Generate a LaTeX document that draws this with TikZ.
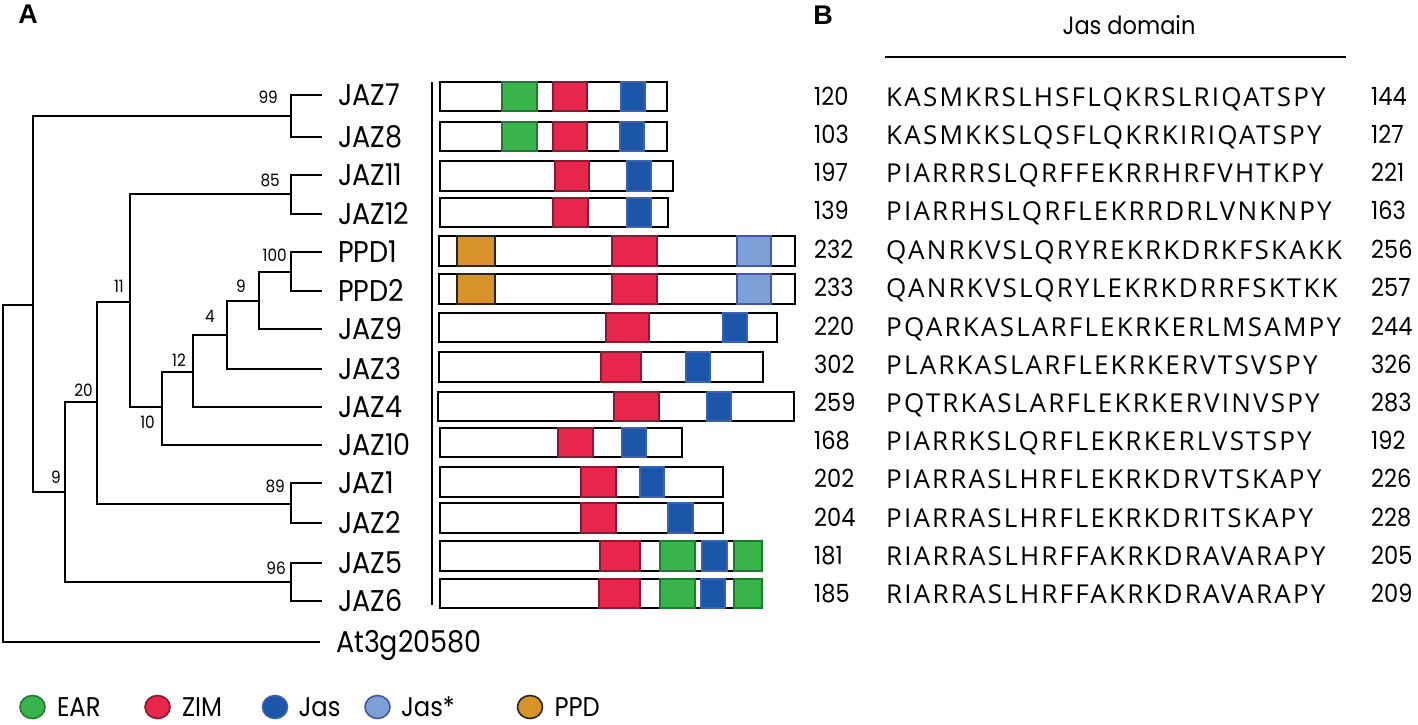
\documentclass[tikz,border=0pt]{standalone}
\usepackage{fontspec}
\usepackage{xcolor}
\usepackage{tikz}
\usetikzlibrary{positioning, shapes.geometric}
\newfontfamily\gothic[FakeStretch=0.9]{Poppins}
\newfontfamily\seqfont[LetterSpace=8.5]{Open Sans}
\newfontfamily\panelfont{Liberation Sans}
\definecolor{earfill}{HTML}{38B44A}
\definecolor{earline}{HTML}{1F7A32}
\definecolor{zimfill}{HTML}{E8254B}
\definecolor{zimline}{HTML}{8C1A30}
\definecolor{jasfill}{HTML}{1C56A8}
\definecolor{jasline}{HTML}{3A62B0}
\definecolor{jsfill}{HTML}{7C9FD4}
\definecolor{jsline}{HTML}{4556B0}
\definecolor{ppdfill}{HTML}{D8922A}
\definecolor{ppdline}{HTML}{2B2515}
\tikzset{
    branch/.style = {line width=2.5pt},
    leaf/.style = {anchor=west, inner xsep=8pt, outer xsep=8pt, inner ysep=0pt,
        outer ysep=0pt, text height=21pt, text depth=0pt,
        font=\gothic\fontsize{30}{36}\selectfont},
    boot/.style = {inner sep=0pt, text height=12pt, text depth=0pt,
        font=\gothic\fontsize{17}{20}\selectfont},
    protbar/.style = {draw=black, line width=2.6pt, fill=white},
    dom/.style = {line width=1.4pt},
    ear/.style = {dom, fill=earfill, draw=earline},
    zim/.style = {dom, fill=zimfill, draw=zimline},
    jas/.style = {dom, fill=jasfill, draw=jasline},
    jasstar/.style = {dom, fill=jsfill, draw=jsline},
    ppd/.style = {dom, fill=ppdfill, draw=ppdline},
    resnum/.style = {anchor=west, inner sep=0pt, text height=17pt, text depth=0pt,
        font=\gothic\fontsize{25}{30}\selectfont},
    seqtxt/.style = {anchor=west, inner sep=0pt, text height=18pt, text depth=0pt,
        font=\seqfont\fontsize{26}{31}\selectfont},
    legdot/.style = {ellipse, minimum width=25pt, minimum height=23pt, inner sep=0pt,
        line width=1.6pt},
    legtxt/.style = {inner sep=0pt, text height=19pt, text depth=0pt,
        font=\gothic\fontsize{27}{32}\selectfont},
    panel/.style = {inner sep=0pt, font=\panelfont\bfseries\fontsize{27}{32}\selectfont},
}

\begin{document}
\begin{tikzpicture}[x=1pt,y=-1pt]
        \useasboundingbox (0,0) rectangle (1418,724);
        \node [panel] (pa) at (28,14) {A};
        \node [panel] (pb) at (823,15) {B};

        % leaves
        \node [leaf] (jaz7) at (322,95) {JAZ7};
        \node [leaf] (jaz8) at (322,137) {JAZ8};
        \node [leaf] (jaz11) at (322,175) {JAZ11};
        \node [leaf] (jaz12) at (322,214) {JAZ12};
        \node [leaf] (ppd1) at (322,252) {PPD1};
        \node [leaf] (ppd2) at (322,291) {PPD2};
        \node [leaf] (jaz9) at (322,329) {JAZ9};
        \node [leaf] (jaz3) at (322,369) {JAZ3};
        \node [leaf] (jaz4) at (322,407) {JAZ4};
        \node [leaf] (jaz10) at (322,445) {JAZ10};
        \node [leaf] (jaz1) at (322,483) {JAZ1};
        \node [leaf] (jaz2) at (322,523) {JAZ2};
        \node [leaf] (jaz5) at (322,563) {JAZ5};
        \node [leaf] (jaz6) at (322,601) {JAZ6};
        \node [leaf] (at3g) at (320,642) {At3g20580};

        % inner nodes
        \coordinate (n99) at (291,116);
        \coordinate (n85) at (291,194);
        \coordinate (n100) at (291,272);
        \coordinate (n9a) at (259,301);
        \coordinate (n4) at (227,335);
        \coordinate (n12) at (193,372);
        \coordinate (n10) at (162,407);
        \coordinate (n11) at (130,302);
        \coordinate (n89) at (291,504);
        \coordinate (n20) at (97,402);
        \coordinate (n96) at (291,582);
        \coordinate (n9b) at (65,492);
        \coordinate (nroot) at (33,305);
        \coordinate (ntop) at (3,305);

        \draw [branch] (jaz7.west) -| (n99) |- (jaz8.west);
        \draw [branch] (jaz11.west) -| (n85) |- (jaz12.west);
        \draw [branch] (ppd1.west) -| (n100) |- (ppd2.west);
        \draw [branch] (n100) -| (n9a) |- (jaz9.west);
        \draw [branch] (n9a) -| (n4) |- (jaz3.west);
        \draw [branch] (n4) -| (n12) |- (jaz4.west);
        \draw [branch] (n12) -| (n10) |- (jaz10.west);
        \draw [branch] (n85) -| (n11) |- (n10);
        \draw [branch] (jaz1.west) -| (n89) |- (jaz2.west);
        \draw [branch] (n11) -| (n20) |- (n89);
        \draw [branch] (jaz5.west) -| (n96) |- (jaz6.west);
        \draw [branch] (n20) -| (n9b) |- (n96);
        \draw [branch] (n99) -| (nroot) |- (n9b);
        \draw [branch] (nroot) -- (ntop) |- (at3g.west);

        % bootstrap values
        \node [boot, above left=12pt and 13pt of n99] {99};
        \node [boot, above left=7pt and 11pt of n85] {85};
        \node [boot, above left=10pt and 4pt of n100] {100};
        \node [boot, above left=8pt and 13pt of n9a] {9};
        \node [boot, above left=12pt and 12pt of n4] {4};
        \node [boot, above left=5pt and 7pt of n12] {12};
        \node [boot, above left=9pt and 6pt of n11] {11};
        \node [boot, below left=9pt and 7pt of n10] {10};
        \node [boot, above left=11pt and 6pt of n89] {89};
        \node [boot, above left=5pt and 4pt of n20] {20};
        \node [boot, above left=7pt and 5pt of n96] {96};
        \node [boot, above left=8pt and 4pt of n9b] {9};

        % domain architecture
        \draw [branch] (432,82) -- (432,605);
        \draw [protbar] (440,82) rectangle (667,111);
        \draw [ear] (502,82) rectangle (537,111);
        \draw [zim] (553,82) rectangle (587,111);
        \draw [jas] (621,82) rectangle (645,111);
        \draw [protbar] (440,122) rectangle (667,151);
        \draw [ear] (502,122) rectangle (537,151);
        \draw [zim] (553,122) rectangle (587,151);
        \draw [jas] (620,122) rectangle (644,151);
        \draw [protbar] (440,161) rectangle (673,191);
        \draw [zim] (555,161) rectangle (589,191);
        \draw [jas] (627,161) rectangle (651,191);
        \draw [protbar] (440,198) rectangle (668,227);
        \draw [zim] (553,198) rectangle (588,227);
        \draw [jas] (627,198) rectangle (651,227);
        \draw [protbar] (439,236) rectangle (795,266);
        \draw [ppd] (457,236) rectangle (495,266);
        \draw [zim] (612,236) rectangle (657,266);
        \draw [jasstar] (737,236) rectangle (771,266);
        \draw [protbar] (439,274) rectangle (795,304);
        \draw [ppd] (457,274) rectangle (495,304);
        \draw [zim] (612,274) rectangle (657,304);
        \draw [jasstar] (737,274) rectangle (771,304);
        \draw [protbar] (439,313) rectangle (777,342);
        \draw [zim] (606,313) rectangle (649,342);
        \draw [jas] (723,313) rectangle (747,342);
        \draw [protbar] (439,352) rectangle (763,382);
        \draw [zim] (601,352) rectangle (641,382);
        \draw [jas] (686,352) rectangle (710,382);
        \draw [protbar] (438,392) rectangle (794,421);
        \draw [zim] (614,392) rectangle (659,421);
        \draw [jas] (707,392) rectangle (731,421);
        \draw [protbar] (440,428) rectangle (682,457);
        \draw [zim] (558,428) rectangle (593,457);
        \draw [jas] (622,428) rectangle (646,457);
        \draw [protbar] (440,467) rectangle (723,497);
        \draw [zim] (581,467) rectangle (616,497);
        \draw [jas] (640,467) rectangle (664,497);
        \draw [protbar] (440,503) rectangle (723,533);
        \draw [zim] (581,503) rectangle (616,533);
        \draw [jas] (668,503) rectangle (693,533);
        \draw [protbar] (440,541) rectangle (762,571);
        \draw [zim] (600,541) rectangle (640,571);
        \draw [ear] (660,541) rectangle (695,571);
        \draw [jas] (702,541) rectangle (727,571);
        \draw [ear] (734,541) rectangle (762,571);
        \draw [protbar] (440,579) rectangle (762,608);
        \draw [zim] (599,579) rectangle (640,608);
        \draw [ear] (660,579) rectangle (695,608);
        \draw [jas] (701,579) rectangle (725,608);
        \draw [ear] (734,579) rectangle (762,608);

        % Jas domain alignment
        \node [inner sep=0pt, text height=17pt, text depth=0pt,
            font=\gothic\fontsize{25}{30}\selectfont] (jasdom) at (1129,26) {Jas domain};
        \coordinate (jl) at (885,57);
        \coordinate (jr) at (1346,57);
        \draw [branch] (jl) -- (jr);

        \node [resnum] (a7) at (814,97) {120};
        \node [seqtxt] (s7) at (886,97) {KASMKRSLHSFLQKRSLRIQATSPY};
        \node [resnum] (b7) at (1371,97) {144};
        \node [resnum] (a8) at (814,135) {103};
        \node [seqtxt] (s8) at (886,135) {KASMKKSLQSFLQKRKIRIQATSPY};
        \node [resnum] (b8) at (1371,135) {127};
        \node [resnum] (a11) at (814,173) {197};
        \node [seqtxt] (s11) at (886,173) {PIARRRSLQRFFEKRRHRFVHTKPY};
        \node [resnum] (b11) at (1371,173) {221};
        \node [resnum] (a12) at (814,211) {139};
        \node [seqtxt] (s12) at (886,211) {PIARRHSLQRFLEKRRDRLVNKNPY};
        \node [resnum] (b12) at (1371,211) {163};
        \node [resnum] (ap1) at (814,250) {232};
        \node [seqtxt] (sp1) at (886,250) {QANRKVSLQRYREKRKDRKFSKAKK};
        \node [resnum] (bp1) at (1371,250) {256};
        \node [resnum] (ap2) at (814,288) {233};
        \node [seqtxt] (sp2) at (886,288) {QANRKVSLQRYLEKRKDRRFSKTKK};
        \node [resnum] (bp2) at (1371,288) {257};
        \node [resnum] (a9) at (814,327) {220};
        \node [seqtxt] (s9) at (886,327) {PQARKASLARFLEKRKERLMSAMPY};
        \node [resnum] (b9) at (1371,327) {244};
        \node [resnum] (a3) at (814,365) {302};
        \node [seqtxt] (s3) at (886,365) {PLARKASLARFLEKRKERVTSVSPY};
        \node [resnum] (b3) at (1371,365) {326};
        \node [resnum] (a4) at (814,403) {259};
        \node [seqtxt] (s4) at (886,403) {PQTRKASLARFLEKRKERVINVSPY};
        \node [resnum] (b4) at (1371,403) {283};
        \node [resnum] (a10) at (814,441) {168};
        \node [seqtxt] (s10) at (886,441) {PIARRKSLQRFLEKRKERLVSTSPY};
        \node [resnum] (b10) at (1371,441) {192};
        \node [resnum] (a1) at (814,479) {202};
        \node [seqtxt] (s1) at (886,479) {PIARRASLHRFLEKRKDRVTSKAPY};
        \node [resnum] (b1) at (1371,479) {226};
        \node [resnum] (a2) at (814,518) {204};
        \node [seqtxt] (s2) at (886,518) {PIARRASLHRFLEKRKDRITSKAPY};
        \node [resnum] (b2) at (1371,518) {228};
        \node [resnum] (a5) at (814,556) {181};
        \node [seqtxt] (s5) at (886,556) {RIARRASLHRFFAKRKDRAVARAPY};
        \node [resnum] (b5) at (1371,556) {205};
        \node [resnum] (a6) at (814,594) {185};
        \node [seqtxt] (s6) at (886,594) {RIARRASLHRFFAKRKDRAVARAPY};
        \node [resnum] (b6) at (1371,594) {209};

        % legend
        \node [legdot, fill=earfill, draw=earline] (lear) at (32.5,707) {};
        \node [legtxt, right=11pt of lear] (tear) {EAR};
        \node [legdot, fill=zimfill, draw=zimline] (lzim) at (157.5,707) {};
        \node [legtxt, right=11pt of lzim] (tzim) {ZIM};
        \node [legdot, fill=jasfill, draw=jasline] (ljas) at (275,707) {};
        \node [legtxt, right=10pt of ljas] (tjas) {Jas};
        \node [legdot, fill=jsfill, draw=jsline] (ljs) at (377.5,707) {};
        \node [legtxt, right=10pt of ljs] (tjs) {Jas*};
        \node [legdot, fill=ppdfill, draw=ppdline] (lppd) at (530,707) {};
        \node [legtxt, right=11pt of lppd] (tppd) {PPD};
\end{tikzpicture}
\end{document}
